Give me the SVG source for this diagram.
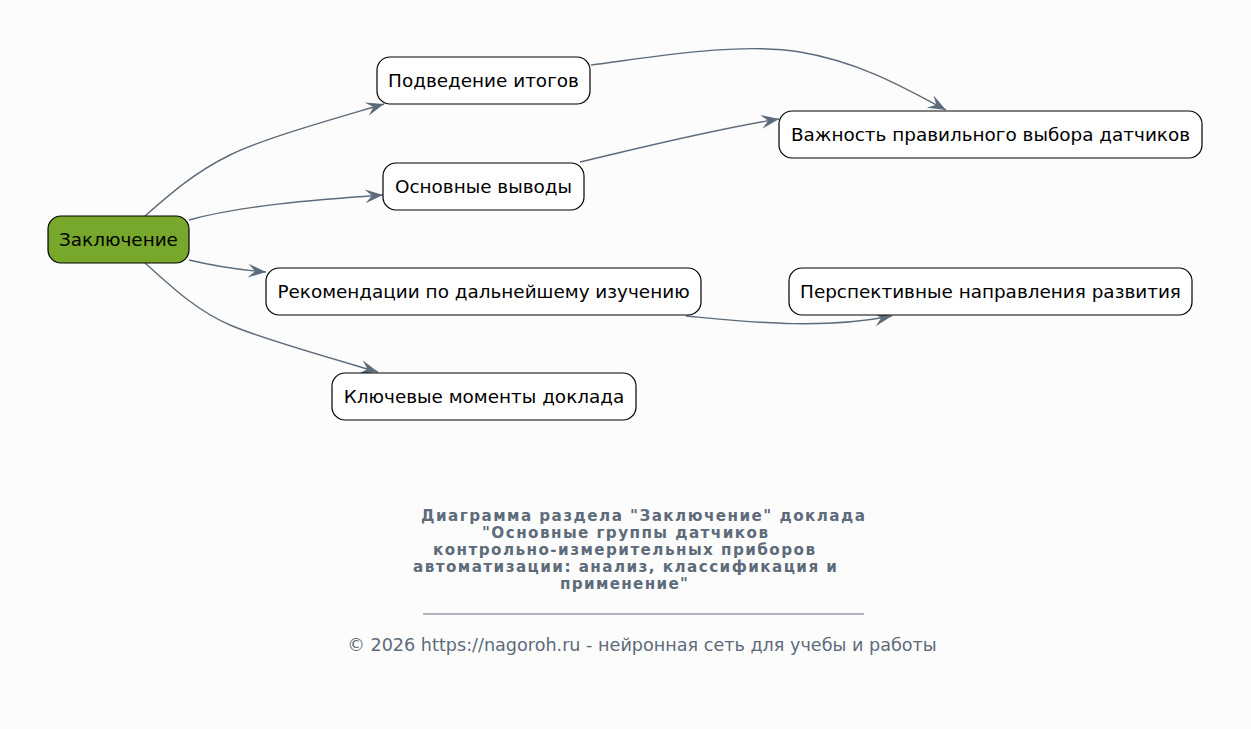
<svg xmlns="http://www.w3.org/2000/svg" width="1251" height="729" viewBox="0 0 1251 729">
<style>
.node rect{fill:#ffffff;stroke:#000000;stroke-width:1.2}
.node text{font-family:"DejaVu Sans",sans-serif;font-size:18.4px;fill:#000000;text-anchor:middle}
.root rect{fill:#77a82b}
.edges path{fill:none;stroke:#5d6b7a;stroke-width:1.4}
.title{font-family:"DejaVu Sans",sans-serif;font-size:15.2px;font-weight:bold;fill:#5d6b7a}
.foot{font-family:"DejaVu Sans",sans-serif;font-size:17.6px;fill:#5d6b7a;text-anchor:middle}
</style>
<defs>
<marker id="arr" markerUnits="userSpaceOnUse" markerWidth="20" markerHeight="16" refX="18" refY="7" orient="auto" viewBox="0 0 20 14">
<path d="M0,0 L18,7 L0,14 L7,7 z" fill="#5d6b7a"/>
</marker>
</defs>
<rect width="1251" height="729" fill="#fcfcfc"/>
<g class="edges">
<path d="M145,216 C170,194 195,172 230,155 C265,138 330,120 384,104" marker-end="url(#arr)"/>
<path d="M189,220 C240,206 310,200 383,195" marker-end="url(#arr)"/>
<path d="M189,260 C210,265 240,270 266,272" marker-end="url(#arr)"/>
<path d="M145,263 C170,285 195,310 230,325 C265,340 330,358 378,372" marker-end="url(#arr)"/>
<path d="M591,65 C660,56 740,42 800,52 C860,62 905,88 946,110" marker-end="url(#arr)"/>
<path d="M580,162 C640,148 710,130 779,119" marker-end="url(#arr)"/>
<path d="M686,316 C750,322 820,330 892,316" marker-end="url(#arr)"/>
</g>
<g id="n0" class="node root"><rect x="48" y="216" width="141" height="47" rx="13"/><text x="118.5" y="246">Заключение</text></g>
<g id="n1" class="node"><rect x="377" y="57" width="213" height="47" rx="13"/><text x="483.5" y="87">Подведение итогов</text></g>
<g id="n2" class="node"><rect x="383" y="163" width="201" height="47" rx="13"/><text x="483.5" y="193">Основные выводы</text></g>
<g id="n3" class="node"><rect x="266" y="268" width="435" height="47" rx="13"/><text x="483.5" y="298">Рекомендации по дальнейшему изучению</text></g>
<g id="n4" class="node"><rect x="332" y="373" width="304" height="47" rx="13"/><text x="484" y="403">Ключевые моменты доклада</text></g>
<g id="n5" class="node"><rect x="779" y="111" width="423" height="47" rx="13"/><text x="990.5" y="141">Важность правильного выбора датчиков</text></g>
<g id="n6" class="node"><rect x="789" y="268" width="403" height="47" rx="13"/><text x="990.5" y="298">Перспективные направления развития</text></g>
<g id="caption">
<text class="title" x="421" y="521" textLength="444" lengthAdjust="spacing">Диаграмма раздела "Заключение" доклада</text>
<text class="title" x="482" y="538" textLength="286" lengthAdjust="spacing">"Основные группы датчиков</text>
<text class="title" x="433" y="555" textLength="382" lengthAdjust="spacing">контрольно-измерительных приборов</text>
<text class="title" x="413" y="572" textLength="424" lengthAdjust="spacing">автоматизации: анализ, классификация и</text>
<text class="title" x="560" y="589" textLength="128" lengthAdjust="spacing">применение"</text>
<line x1="423" y1="614" x2="864" y2="614" stroke="#5d6b7a" stroke-width="1"/>
<text class="foot" x="642" y="651">© 2026 https://nagoroh.ru - нейронная сеть для учебы и работы</text>
</g>
</svg>
